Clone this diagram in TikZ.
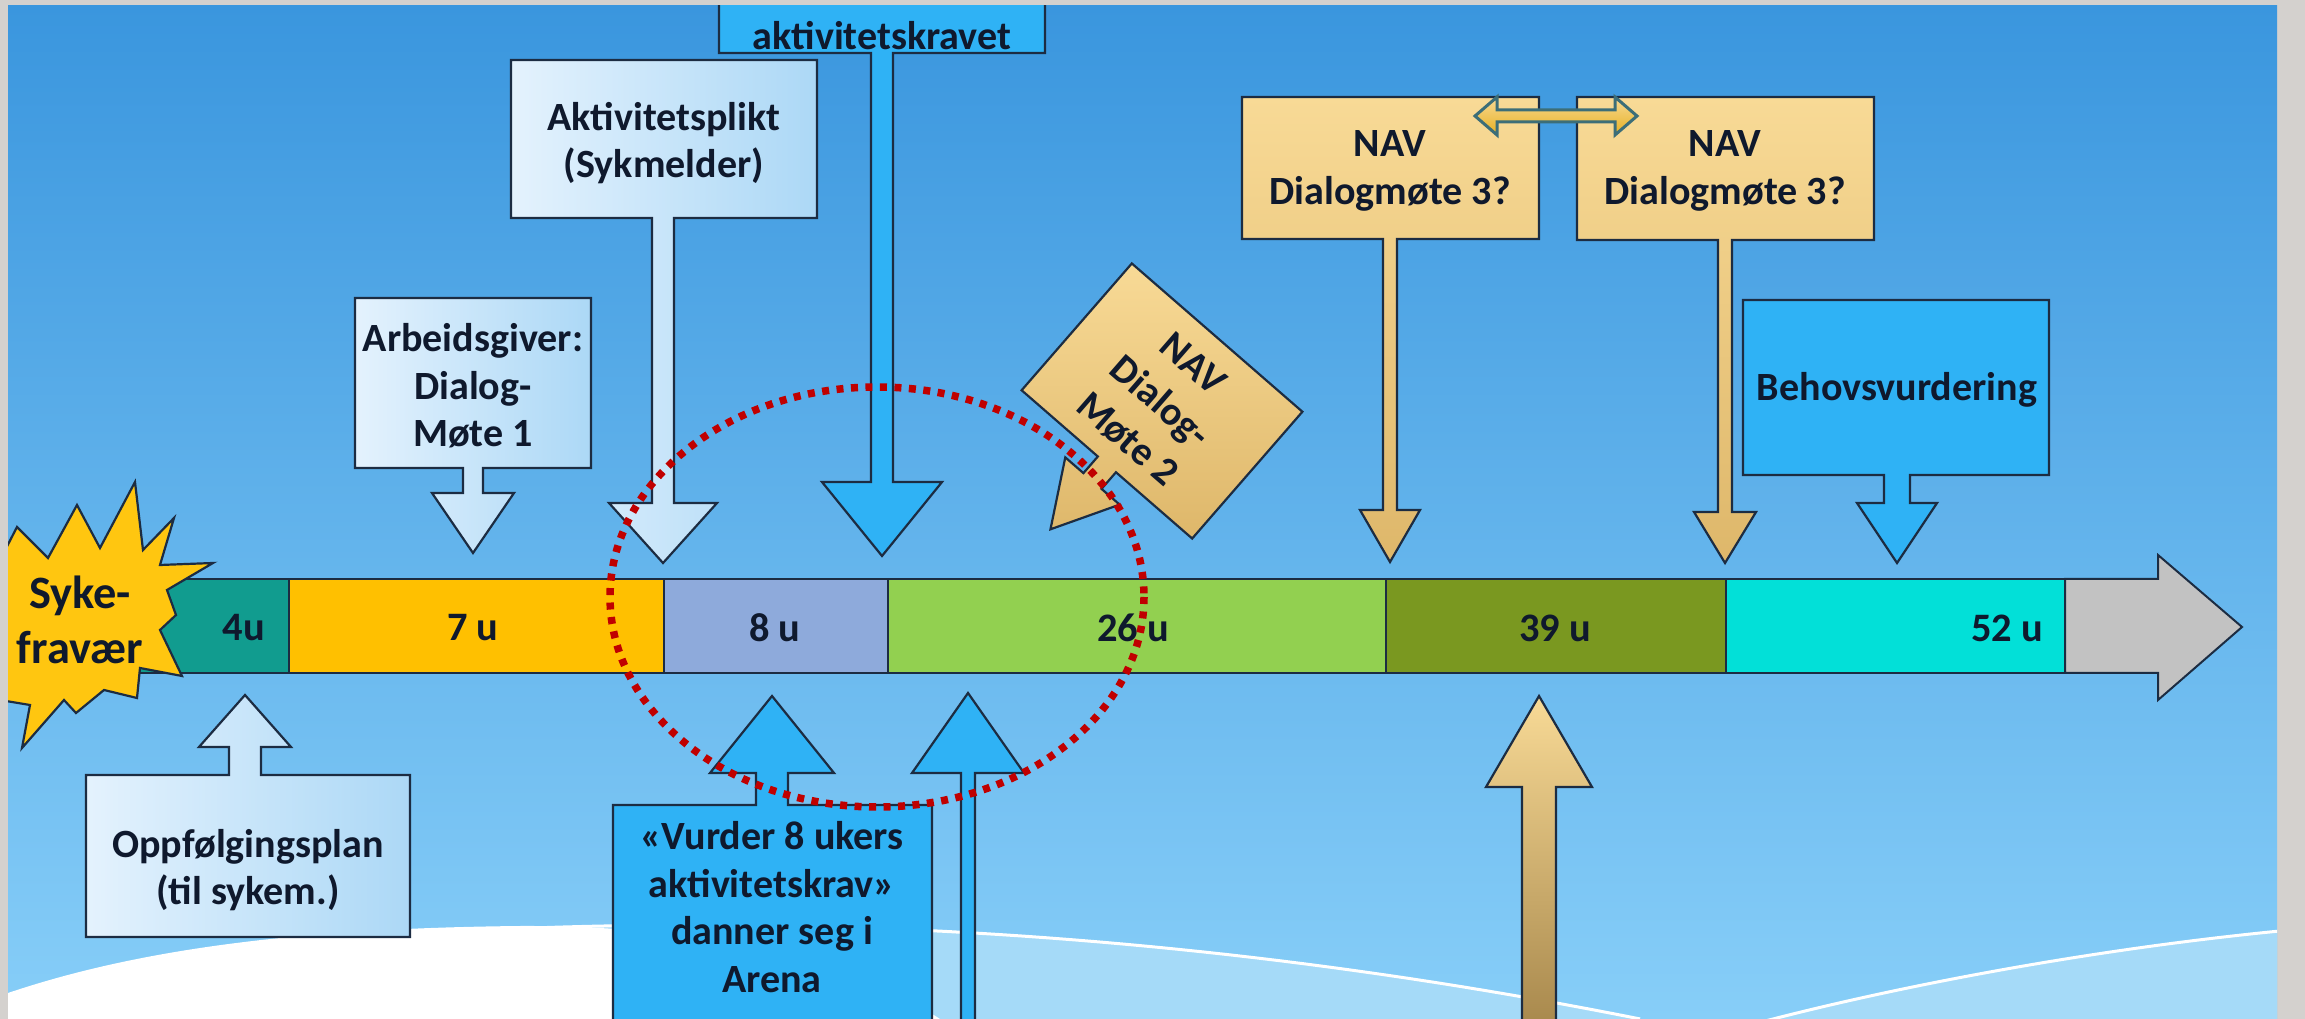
\documentclass[tikz,border=0pt]{standalone}
\usepackage{fontspec}
\setmainfont{Carlito}
\usepackage{tikz}

\definecolor{framecol}{RGB}{212,209,206}
\definecolor{bgtop}{RGB}{58,150,222}
\definecolor{bgbot}{RGB}{135,206,248}
\definecolor{hillcol}{RGB}{165,218,248}
\definecolor{linecol}{RGB}{28,44,66}
\definecolor{txtcol}{RGB}{15,25,45}
\definecolor{lblueL}{RGB}{228,242,253}
\definecolor{lblueR}{RGB}{172,216,246}
\definecolor{bblue}{RGB}{47,178,245}
\definecolor{goldT}{RGB}{248,218,150}
\definecolor{goldB}{RGB}{222,183,106}
\definecolor{goldD}{RGB}{150,118,60}
\definecolor{c4u}{RGB}{17,156,143}
\definecolor{c7u}{RGB}{255,192,0}
\definecolor{c8u}{RGB}{142,170,219}
\definecolor{c26u}{RGB}{146,208,80}
\definecolor{c39u}{RGB}{122,152,32}
\definecolor{c52u}{RGB}{2,224,216}
\definecolor{cgrey}{RGB}{194,194,194}
\definecolor{starcol}{RGB}{255,198,16}
\definecolor{ringred}{RGB}{192,0,0}
\definecolor{dblfill}{RGB}{230,176,32}
\definecolor{dbledge}{RGB}{60,110,120}

\tikzset{
  outl/.style={draw=linecol, line width=0.22mm, line join=miter},
  lightbox/.style={outl, left color=lblueL, right color=lblueR},
  bluebox/.style={outl, fill=bblue},
  goldbox/.style={outl, top color=goldT, bottom color=goldB},
  barseg/.style={draw=linecol, line width=0.2mm},
  lbl/.style={font=\bfseries\fontsize{11.4}{13.5}\selectfont, text=txtcol, align=center, inner sep=0pt},
  seglbl/.style={font=\bfseries\fontsize{11.5}{13}\selectfont, text=txtcol, inner sep=0pt},
  redring/.style={draw=ringred, line width=0.75mm, dash pattern=on 0.7mm off 0.75mm}
}

\begin{document}
\begin{tikzpicture}[x=0.1mm, y=-0.1mm]
  \useasboundingbox (0,0) rectangle (2305,1019);
  \fill[framecol] (0,0) rectangle (2305,1019);
  \begin{scope}
    \clip (8,6) rectangle (2277,1019);
    \shade[top color=bgtop, bottom color=bgbot] (8,6) rectangle (2277,1019);
    \fill[hillcol] plot[domain=380:1640, samples=50] (\x,{925+1.063*((\x-700)/100)^2}) -- (1640,1100) -- (380,1100) -- cycle;
    \draw[white, line width=0.3mm] plot[domain=380:1640, samples=50] (\x,{925+1.063*((\x-700)/100)^2});
    \fill[hillcol] (1750,1025) .. controls (1900,985) and (2100,948) .. (2290,930) -- (2290,1030) -- cycle;
    \draw[white, line width=0.3mm] (1750,1025) .. controls (1900,985) and (2100,948) .. (2290,930);
    \fill[white] (8,993) .. controls (150,945) and (320,928) .. (520,926) .. controls (700,925) and (850,960) .. (940,1019) -- (8,1019) -- cycle;

    \draw[barseg, fill=c4u] (130,579) rectangle (289,673);
    \draw[barseg, fill=c7u] (289,579) rectangle (664,673);
    \draw[barseg, fill=c8u] (664,579) rectangle (888,673);
    \draw[barseg, fill=c26u] (888,579) rectangle (1386,673);
    \draw[barseg, fill=c39u] (1386,579) rectangle (1726,673);
    \draw[barseg, fill=c52u] (1726,579) rectangle (2065,673);
    \draw[barseg, fill=cgrey] (2065,579) -- (2158,579) -- (2158,555) -- (2242,627) -- (2158,700) -- (2158,673) -- (2065,673) -- cycle;
    \node[seglbl] (u4) at (244,628) {4u};
    \node[seglbl] (u7) at (473,628) {7 u};
    \node[seglbl] (u8) at (775,628) {8 u};
    \node[seglbl] (u26) at (1133,628) {26 u};
    \node[seglbl] (u39) at (1555,628) {39 u};
    \node[seglbl] (u52) at (2007,628) {52 u};

    \draw[outl, fill=starcol] (135,482) -- (143,550) -- (174,518) -- (160,565) -- (213,563) -- (167,590) -- (176,615) -- (160,630) -- (182,676) -- (140,668) -- (137,698) -- (104,690) -- (76,713) -- (64,700) -- (22,748) -- (30,705) -- (0,700) -- (2,640) -- (0,560) -- (17,527) -- (48,558) -- (77,505) -- (100,548) -- cycle;
    \node[lbl, font=\bfseries\fontsize{13.2}{15.6}\selectfont] (syk) at (80,620) {Syke-\\fravær};

    \draw[lightbox] (355,298) -- (591,298) -- (591,468) -- (483,468) -- (483,493) -- (514,493) -- (473,553) -- (432,493) -- (463,493) -- (463,468) -- (355,468) -- cycle;
    \draw[lightbox] (511,60) -- (817,60) -- (817,218) -- (674,218) -- (674,503) -- (717,503) -- (663,563) -- (609,503) -- (652,503) -- (652,218) -- (511,218) -- cycle;
    \draw[bluebox] (719,-30) -- (1045,-30) -- (1045,53) -- (893,53) -- (893,482) -- (942,482) -- (882,556) -- (822,482) -- (871,482) -- (871,53) -- (719,53) -- cycle;
    \draw[goldbox] (1242,97) -- (1539,97) -- (1539,239) -- (1397,239) -- (1397,510) -- (1420,510) -- (1390,562) -- (1360,510) -- (1383,510) -- (1383,239) -- (1242,239) -- cycle;
    \draw[goldbox] (1577,97) -- (1874,97) -- (1874,240) -- (1732,240) -- (1732,512) -- (1756,512) -- (1725,563) -- (1694,512) -- (1718,512) -- (1718,240) -- (1577,240) -- cycle;
    \draw[bluebox] (1743,300) -- (2049,300) -- (2049,475) -- (1910,475) -- (1910,503) -- (1937,503) -- (1897,563) -- (1857,503) -- (1884,503) -- (1884,475) -- (1743,475) -- cycle;
    \draw[lightbox] (86,937) -- (410,937) -- (410,775) -- (261,775) -- (261,747) -- (291,747) -- (245,695) -- (199,747) -- (229,747) -- (229,775) -- (86,775) -- cycle;
    \draw[bluebox] (613,1100) -- (932,1100) -- (932,805) -- (788,805) -- (788,773) -- (834,773) -- (772,696) -- (710,773) -- (756,773) -- (756,805) -- (613,805) -- cycle;
    \draw[bluebox] (961,1100) -- (961,773) -- (912,773) -- (968,693) -- (1024,773) -- (975,773) -- (975,1100) -- cycle;
    \draw[outl, top color=goldT, bottom color=goldD] (1522,1100) -- (1522,787) -- (1486,787) -- (1539,696) -- (1592,787) -- (1556,787) -- (1556,1100) -- cycle;

    \begin{scope}[shift={(1162,401)}, rotate=-41]
      \draw[goldbox] (-113,-84) -- (113,-84) -- (113,84) -- (12,84) -- (12,106) -- (36,106) -- (0,170) -- (-36,106) -- (-12,106) -- (-12,84) -- (-113,84) -- cycle;
    \end{scope}

    \draw[draw=dbledge, line width=0.3mm, top color=goldT, bottom color=dblfill] (1475,116) -- (1497,97) -- (1497,110) -- (1615,110) -- (1615,97) -- (1637,116) -- (1615,135) -- (1615,122) -- (1497,122) -- (1497,135) -- cycle;

    \node[lbl] (arbgiver) at (473,386) {Arbeidsgiver:\\Dialog-\\Møte 1};
    \node[lbl] (aktplikt) at (664,143) {Aktivitetsplikt\\(Sykmelder)};
    \node[lbl] (aktkrav) at (882,36) {aktivitetskravet};
    \node[lbl] (navtreA) at (1390,171) {NAV\\Dialogmøte 3?};
    \node[lbl] (navtreB) at (1725,171) {NAV\\Dialogmøte 3?};
    \node[lbl, rotate=-41, font=\bfseries\fontsize{11.4}{14.2}\selectfont] (navto) at (1160,402) {NAV\\Dialog-\\Møte 2};
    \node[lbl] (behov) at (1897,390) {Behovsvurdering};
    \node[lbl] (oppf) at (248,870) {Oppfølgingsplan\\(til sykem.)};
    \node[lbl] (vurder) at (772,907) {«Vurder 8 ukers\\aktivitetskrav»\\danner seg i\\Arena};

    \draw[redring] (877,597) ellipse [x radius=267, y radius=210];
  \end{scope}
\end{tikzpicture}
\end{document}
